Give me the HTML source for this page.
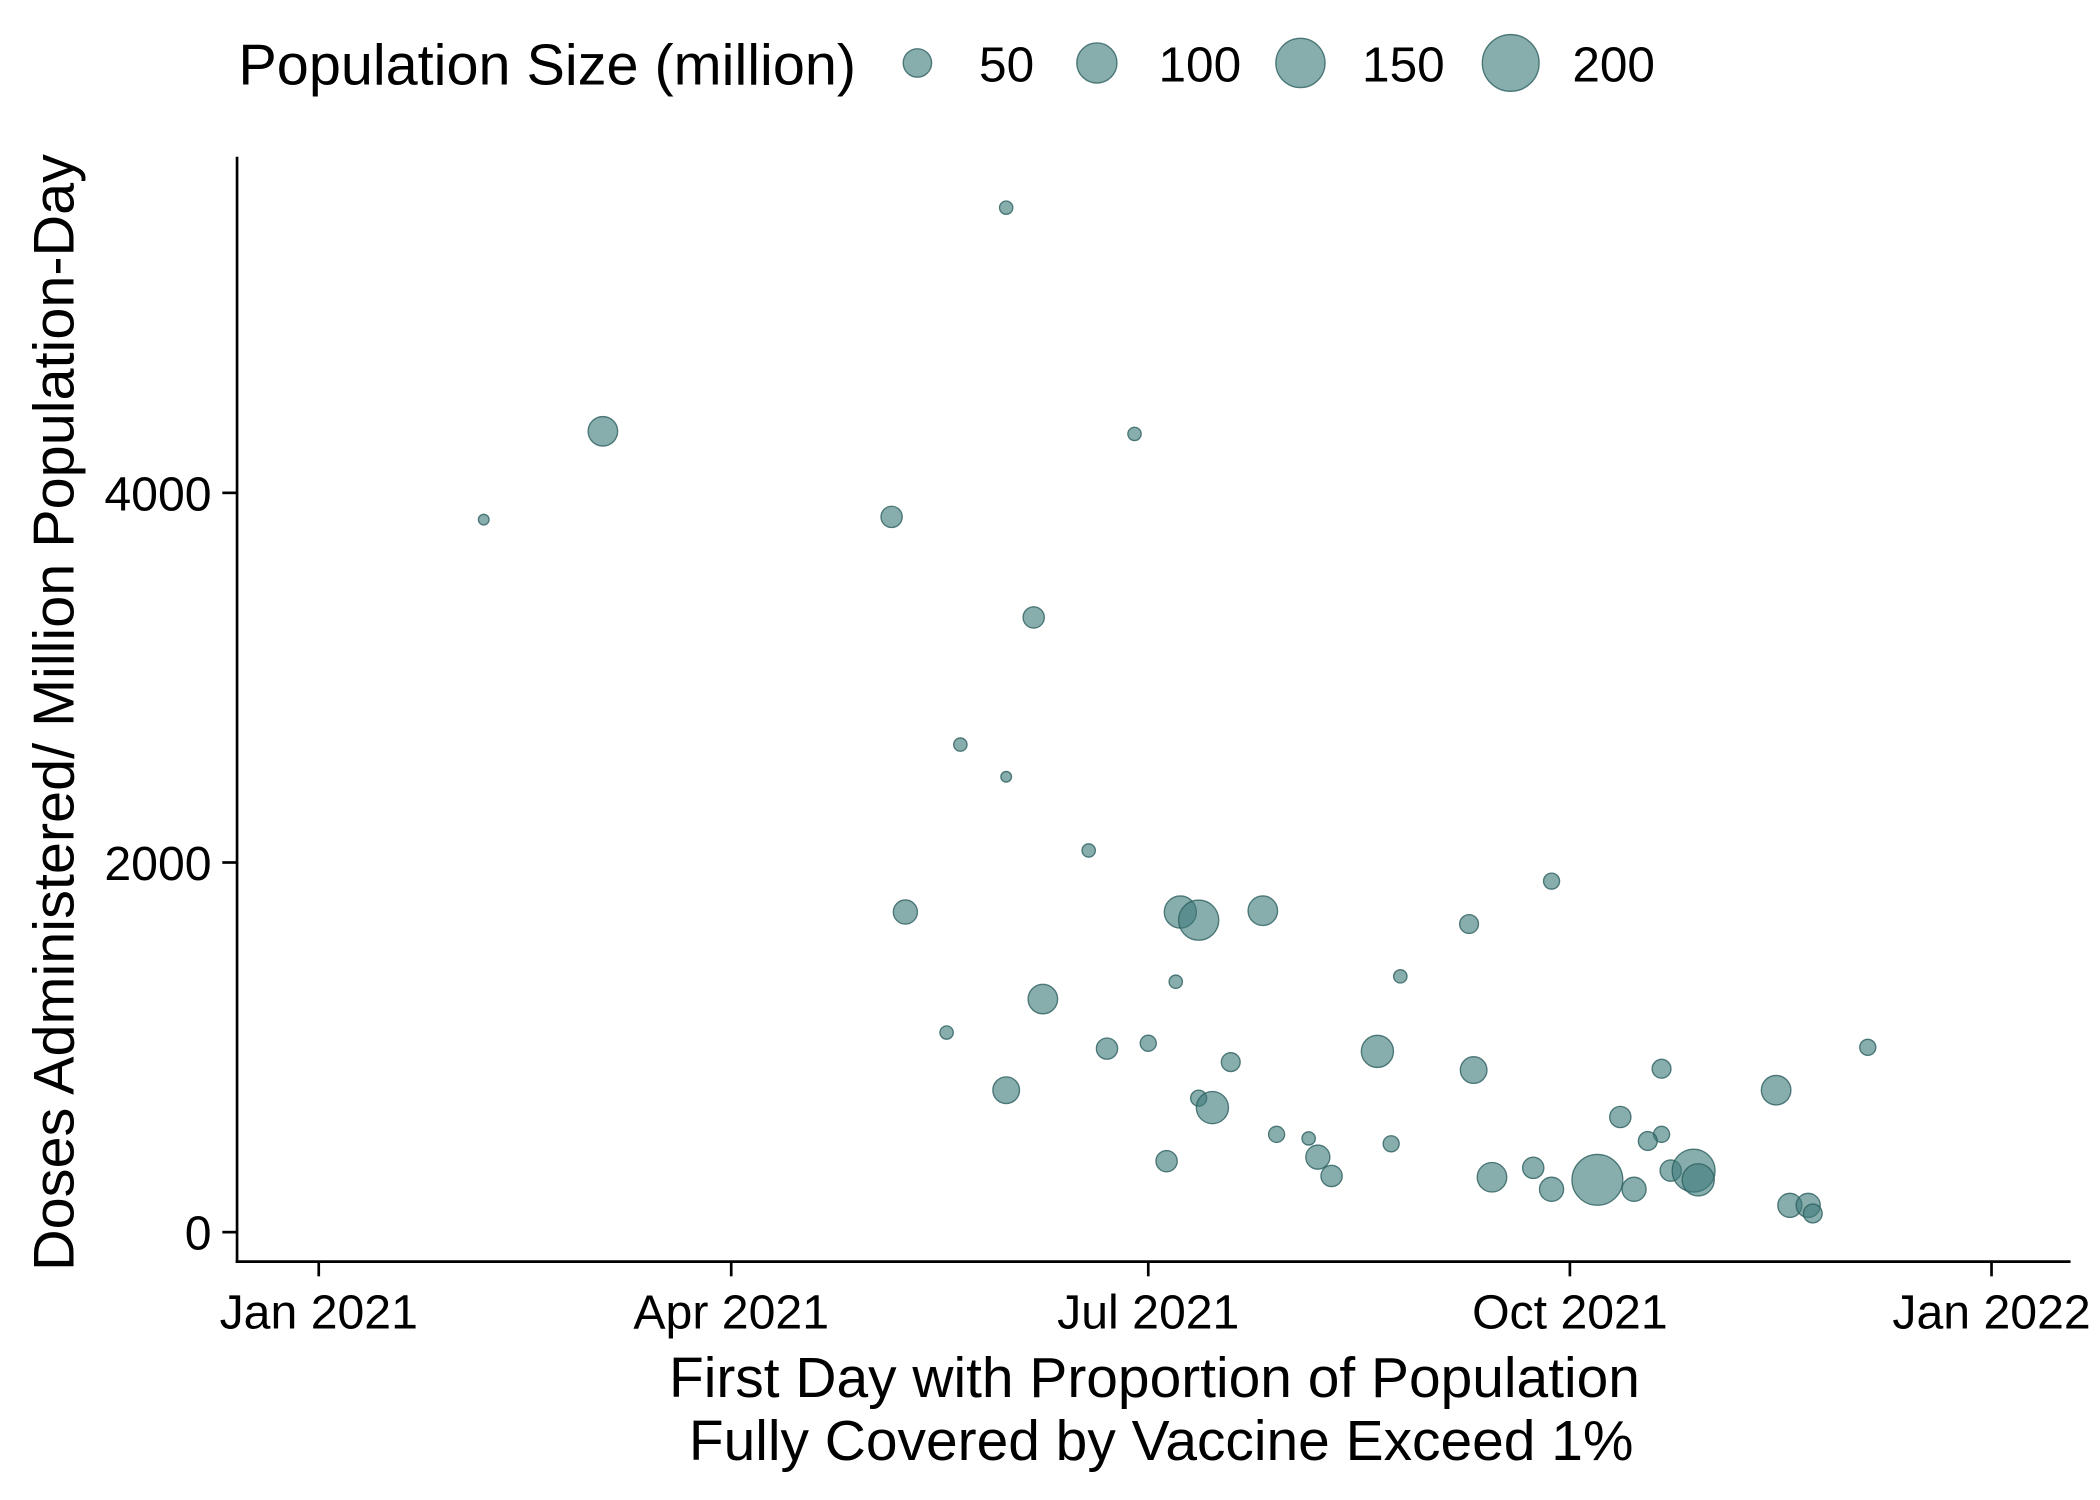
<!DOCTYPE html>
<html><head><meta charset="utf-8"><style>
html,body{margin:0;padding:0;background:#fff;}
svg{display:block;font-family:"Liberation Sans",Arial,sans-serif;}
</style></head><body>
<svg id="chart" width="2100" height="1500" viewBox="0 0 1568 1120" xmlns="http://www.w3.org/2000/svg">
<rect width="1568" height="1120" fill="#fff"/>
<g id="legend"></g>
<g id="axes"></g>
<g id="points"></g>
</svg>
<script>
const dayOffsets=[36,62,125,150,178,156,140,150,168,128,188,192,206,269,251,236,187,158,137,181,172,338,231,252,293,199,150,318,192,195,284,209,216,293,290,234,218,185,265,295,300,221,256,301,279,287,269,321,325,326];
const doses=[3855,4333,3870,5543,4319,3326,2638,2464,2065,1732,1732,1688,1739,1899,1667,1384,1355,1261,1080,1022,993,1000,978,877,884,920,768,768,725,674,623,529,507,529,493,478,406,384,348,333,333,304,297,283,283,232,232,145,145,101];
const popSize=[7,54,28,11,11,28,11,7,11,36,64,100,54,16,22,11,11,54,11,16,28,16,64,44,22,22,44,54,16,64,28,16,11,16,22,16,36,28,28,28,114,28,54,64,160,36,36,36,36,22];
const xTickLabels=["Jan 2021","Apr 2021","Jul 2021","Oct 2021","Jan 2022"];
const xTickDays=[0,90,181,273,365];
const yTicks=[0,2000,4000];
const legendSizes=[50,100,150,200];

const NS="http://www.w3.org/2000/svg";
function X(d){return 238+d*(1487-238)/365;}
function Y(v){return 920-v*0.138;}
function R(p){return Math.sqrt(p)*1.5;}
function mk(tag,attrs,parent,text){const e=document.createElementNS(NS,tag);for(const k in attrs)e.setAttribute(k,attrs[k]);if(text!==undefined)e.textContent=text;parent.appendChild(e);return e;}

const axes=document.getElementById('axes');
let l=mk('line',{x1:177,y1:117,x2:177,y2:943,stroke:'#000','stroke-width':2},axes);


l=mk('line',{x1:176,y1:942,x2:1546,y2:942,stroke:'#000','stroke-width':2},axes);


xTickDays.forEach((d,i)=>{
  const t=mk('line',{x1:X(d),y1:942,x2:X(d),y2:953,stroke:'#000','stroke-width':2},axes);
  
  
  const tx=mk('text',{x:X(d),y:992,'text-anchor':'middle','font-size':36},axes,xTickLabels[i]);
  
  
});
yTicks.forEach(v=>{
  const t=mk('line',{x1:166,y1:Y(v),x2:177,y2:Y(v),stroke:'#000','stroke-width':2},axes);
  
  
  const tx=mk('text',{x:158,y:Y(v)+13,'text-anchor':'end','font-size':36},axes,String(v));
  
  
});
let tt=mk('text',{x:862,y:1043,'text-anchor':'middle','font-size':42.5},axes,'First Day with Proportion of Population');


tt=mk('text',{x:867,y:1090,'text-anchor':'middle','font-size':42.5},axes,'Fully Covered by Vaccine Exceed 1%');


tt=mk('text',{x:0,y:0,'text-anchor':'middle','font-size':43,transform:'translate(55,532) rotate(-90)'},axes,'Doses Administered/ Million Population-Day');



const pts=document.getElementById('points');
dayOffsets.forEach((d,i)=>{
  const c=mk('circle',{cx:X(d),cy:Y(doses[i]),r:R(popSize[i]),fill:'#3f7b7b','fill-opacity':0.62,stroke:'#2c5e5e','stroke-opacity':0.8,'stroke-width':1},pts);
  
  
});

const lg=document.getElementById('legend');
tt=mk('text',{x:178,y:63,'font-size':43},lg,'Population Size (million)');


const lgX=[685,819,971,1128];
legendSizes.forEach((s,i)=>{
  const c=mk('circle',{cx:lgX[i],cy:47,r:R(s),fill:'#3f7b7b','fill-opacity':0.62,stroke:'#2c5e5e','stroke-opacity':0.8,'stroke-width':1},lg);
  
  
  const t=mk('text',{x:lgX[i]+46,y:61,'font-size':37},lg,String(s));
  
  
});
</script>
</body></html>
